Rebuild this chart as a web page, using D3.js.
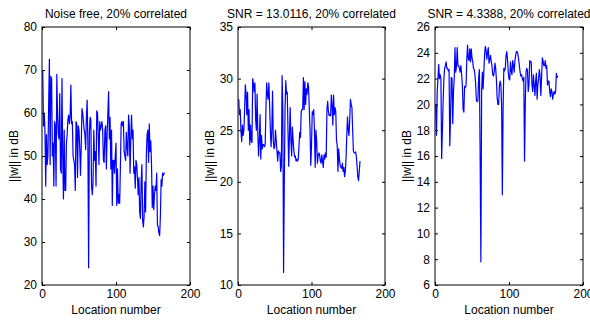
<!DOCTYPE html>
<html><head><meta charset="utf-8">
<script src="https://cdn.jsdelivr.net/npm/d3@7"></script>
<style>body{margin:0;background:#fff}svg{display:block}text{font-family:"Liberation Sans",Arial,sans-serif;font-size:12px;fill:#000}</style>
</head><body><svg id="c" width="590" height="322"></svg>
<script>
const titles = ["Noise free, 20% correlated", "SNR = 13.0116, 20% correlated", "SNR = 4.3388, 20% correlated"];
const yLabel = "||w|| in dB";
const xLabel = "Location number";
const xTicks = [0, 100, 200];
const yDomains = [[20, 80], [10, 35], [6, 26]];
const yTicks = [[20,30,40,50,60,70,80],[10,15,20,25,30,35],[6,8,10,12,14,16,18,20,22,24,26]];

const noiseFree = [70,57,60,56,43,55,48,50,62,72.5,48,68.5,68,50,53,43,58,57,43,69,
60,55,54,64.5,47,46,68,50,40,56,42,42,53,55,58.5,59.5,57.5,59,66.5,57.5,
58,50,49,48,42,58,57.5,45,57,56,52,45.5,52,61,60,58,56,55,51.5,59,
63,53,24,55,59,58.5,43,41,44,56,49,51,43,60.5,60,55,48,58,56,57,
58,56,49,48.5,56,57,47,55,60,65,54,59,47,56,38.5,49,49,46,50,53,
38.5,47,39,41,39,48,57.5,58,57,58,51,50,49,55.5,52,50,59.5,57,46,54,
59.5,54,56,46,47.5,42.5,49,48,45,41,45,37,35.5,44,48,35,33.5,36,44,37,
50,55,56,48.5,57.5,51,53.5,48,38,43,37.5,41,43,42,46,34,33.5,32,31.5,36,
44.5,43,46,45.5,46,46];
const snr13 = [28,26.5,27,25,23.9,25.5,24.5,25,27,29.4,28.5,26.5,28.7,25,27,23.6,25.5,24,23.8,30,
29.5,28.7,29.6,26,25,28.5,24.5,22.5,24,26.5,22.2,24.5,23.2,23.6,23.6,23.4,23.6,27,29.6,28.5,
28,29.6,27.5,25,23.4,25,28.8,24,23.2,23.4,25,24,23,22,23,22.8,22.8,21,21.5,30.3,
27,11.2,20,27,29.8,28.5,28.7,25,21.5,24.5,27.2,24,22.5,25.3,24,23,22.4,22.5,22,22.2,
22,22.2,23.5,24.8,24.3,26.8,27,27,30.1,27,29.7,27.5,29,28.5,29.6,29.2,27,25,21.6,23.5,
26.8,26.5,27,25,21.4,25,24,21.8,22.5,22.8,22.6,22,21.8,22.6,22,21.4,22.6,22.2,22.8,22.4,
27,27.8,26.8,26.4,26.5,26.4,28.4,27.4,25.5,28.4,26.5,27.2,26.8,24,23.5,21,23.2,22.2,21.6,21.4,
21.3,21.8,21,21.4,20.5,21,22.3,24.5,26.3,25,24.5,26,28,27.5,27.2,25,23,22.8,22.8,22.9,
22.5,21.5,20.5,20.1,21,22];
const snr4 = [20,17.6,21,22,23.1,22,22.3,22,15.8,18,20.2,22,22.8,23,23.3,22.8,22.8,22.6,22.7,16.8,
19,22.1,22,18.5,21,22,24.4,22.5,22.9,24.4,23,23,22.8,22.5,23,22.3,21.5,19.6,19.4,21.4,
21.3,21.5,23.5,24.6,23.5,23.4,24.3,23.3,24.3,23.6,23.3,22.8,22.7,22.3,21.5,20.3,20.2,20.3,22.1,22.7,
16,7.8,21,22.5,21.2,22.5,23.9,24.5,24.2,23.5,24,24.4,23.2,23.5,23.8,23.3,23,22.3,22.2,22.5,
23.2,22.8,21.9,20.5,20,20,21.4,21.8,21.5,20,13,19.5,22.8,22.6,22.8,23.8,24.1,23.5,22.5,22,
21.9,23.3,22.6,22.3,23.4,23,22.5,23.4,23.8,24.1,24.1,23.9,23.5,23,22.5,22.2,22.3,22,21.8,22.1,
15.6,20,22.5,22.8,22.6,21,21.5,23.4,23.3,23.3,21.5,21,22.3,21.5,20.7,21.8,22.4,20.4,21.5,22,
22.7,22.2,20.7,22,23.6,23.4,23,23,23.4,22.8,23,21.5,21.8,21.8,21,20.6,21.2,21,20.4,20.8,
21,20.8,21,22.4,22.1,22.2];
const series = [noiseFree, snr13, snr4];

const svg = d3.select("#c");
const lefts = [42, 238, 435];
const widths = [148, 147, 148];
const plotTop = 27, plotBottom = 285;

series.forEach((vals, k) => {
  const L = lefts[k], W = widths[k];
  const x = d3.scaleLinear().domain([0, 200]).range([L, L + W]);
  const y = d3.scaleLinear().domain(yDomains[k]).range([plotBottom, plotTop]);
  const g = svg.append("g");
  const line = d3.line().x((d, i) => x(i + 1)).y(d => y(d));
  g.append("path").datum(vals).attr("d", line)
    .attr("fill", "none").attr("stroke", "#0000ff").attr("stroke-width", 1.2)
    .attr("stroke-linejoin", "round");
  const ax = g.append("g").attr("transform", `translate(0,${plotBottom})`)
    .call(d3.axisBottom(x).tickValues(xTicks).tickSize(-3).tickPadding(7).tickSizeOuter(0));
  const axT = g.append("g").attr("transform", `translate(0,${plotTop})`)
    .call(d3.axisTop(x).tickValues(xTicks).tickSize(-3).tickFormat("").tickSizeOuter(0));
  const ay = g.append("g").attr("transform", `translate(${L},0)`)
    .call(d3.axisLeft(y).tickValues(yTicks[k]).tickSize(-3).tickPadding(5).tickSizeOuter(0));
  const ayR = g.append("g").attr("transform", `translate(${L + W},0)`)
    .call(d3.axisRight(y).tickValues(yTicks[k]).tickSize(-3).tickFormat("").tickSizeOuter(0));
  [ax, axT, ay, ayR].forEach(a => {
    a.select(".domain").remove();
    a.selectAll("line").attr("stroke", "#000");
    a.selectAll("text").style("font-size", "12px").style("font-family", '"Liberation Sans",Arial,sans-serif').attr("fill", "#000");
  });
  ax.selectAll("text").attr("dy", null).attr("y", 13);
  g.append("rect").attr("x", L).attr("y", plotTop).attr("width", W).attr("height", plotBottom - plotTop)
    .attr("fill", "none").attr("stroke", "#000").attr("stroke-width", 1);
  g.append("text").attr("x", L + W / 2).attr("y", 17.5).attr("text-anchor", "middle").text(titles[k]);
  g.append("text").attr("x", L + W / 2).attr("y", 314).attr("text-anchor", "middle").text(xLabel);
  g.append("text").attr("transform", `translate(${L - 24},${(plotTop + plotBottom) / 2}) rotate(-90)`)
    .attr("text-anchor", "middle").text(yLabel);
});
</script></body></html>
